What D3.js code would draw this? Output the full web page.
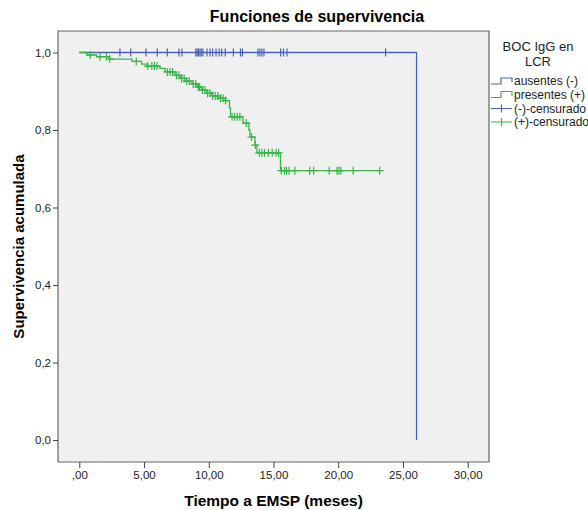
<!DOCTYPE html>
<html><head><meta charset="utf-8">
<script src="https://cdn.jsdelivr.net/npm/d3@7"></script>
<style>body{margin:0;background:#fff;font-family:"Liberation Sans",Arial,sans-serif;}</style>
</head><body>
<svg id="c" width="588" height="510"></svg>
<script>
// ---- data ----
const xTicks = [0, 5, 10, 15, 20, 25, 30];
const xTickLabels = [",00", "5,00", "10,00", "15,00", "20,00", "25,00", "30,00"];
const yTicks = [0, 0.2, 0.4, 0.6, 0.8, 1.0];
const yTickLabels = ["0,0", "0,2", "0,4", "0,6", "0,8", "1,0"];

// ausentes (-): one event at end
const blueEventTimes = [26.05];
const blueSurvival = [0.0];
const blueCensored = [3.14, 3.97, 5.15, 6.02, 6.8, 7.7, 7.93, 9.0, 9.1, 9.2, 9.32, 9.42, 9.55, 9.86, 10.1, 10.3,
  10.56, 10.8, 11.0, 11.27, 11.9, 12.45, 12.6, 13.8, 13.95, 14.1, 14.26, 15.55, 15.77, 16.04, 23.66];

// presentes (+)
const greenEventTimes = [0.57, 1.34, 2.3, 4.07, 4.82, 5.23, 6.23, 6.62, 7.39, 7.78, 8.24, 8.7, 9.09, 9.47, 9.86,
  10.25, 10.71, 11.17, 11.6, 11.68, 12.64, 13.1, 13.18, 13.57, 13.72, 15.54];
const greenSurvival = [0.9935, 0.989, 0.983, 0.977, 0.970, 0.965, 0.959, 0.950, 0.941, 0.933, 0.926, 0.919, 0.911,
  0.903, 0.895, 0.888, 0.882, 0.876, 0.857, 0.834, 0.818, 0.800, 0.782, 0.761, 0.741, 0.695];
const greenCensored = [0.85, 1.6, 2.1, 2.35, 4.4, 5.3, 5.6, 5.8, 6.0, 6.8, 7.0, 7.2, 7.5, 7.7, 7.9, 8.1, 8.3,
  8.5, 8.8, 9.0, 9.2, 9.3, 9.5, 9.7, 9.9, 10.1, 10.3, 10.5, 10.7, 10.9, 11.1, 11.3, 11.8, 12.0, 12.2, 12.4,
  12.9, 13.3, 13.6, 13.9, 14.1, 14.3, 14.6, 14.9, 15.2, 15.4, 15.6, 15.85, 16.0, 16.2, 16.65, 17.8, 18.1,
  19.3, 19.9, 20.05, 20.2, 21.15, 23.2];

const legendTitle = ["BOC IgG en", "LCR"];
const legendLabels = ["ausentes (-)", "presentes (+)", "(-)-censurado", "(+)-censurado"];
const blueColor = "#4a62b6", greenColor = "#3ab54a";

// ---- layout ----
const svg = d3.select("#c");
const plot = {l: 58, r: 489, t: 31, b: 462};
const x = d3.scaleLinear().domain([0, 30]).range([79.3, 467.7]);
const y = d3.scaleLinear().domain([0, 1]).range([440, 52.5]);

svg.append("rect").attr("x", plot.l).attr("y", plot.t).attr("width", plot.r - plot.l)
  .attr("height", plot.b - plot.t).attr("fill", "#f0f0f0");

function stepPoints(times, surv, endT) {
  const pts = [[0, 1]];
  times.forEach((t, i) => pts.push([t, surv[i]]));
  const last = pts[pts.length - 1];
  if (endT > last[0]) pts.push([endT, last[1]]);
  return pts;
}
function survAt(times, surv, t) {
  const i = d3.bisectRight(times, t);
  return i === 0 ? 1 : surv[i - 1];
}
const line = d3.line().x(d => x(d[0])).y(d => y(d[1])).curve(d3.curveStepAfter);

const g = svg.append("g");
// blue
const bluePts = stepPoints(blueEventTimes, blueSurvival, d3.max(blueCensored));
g.append("path").attr("d", line(bluePts)).attr("fill", "none").attr("stroke", blueColor).attr("stroke-width", 1.3);
// green
const greenPts = stepPoints(greenEventTimes, greenSurvival, d3.max(greenCensored));
g.append("path").attr("d", line(greenPts)).attr("fill", "none").attr("stroke", greenColor).attr("stroke-width", 1.3);

function crosses(times, evT, evS, color, hw) {
  const sel = g.append("g").attr("stroke", color).attr("stroke-width", 1.2).attr("fill", "none");
  times.forEach(t => {
    const cx = x(t), cy = y(survAt(evT, evS, t));
    sel.append("path").attr("d", `M${cx},${cy - 4}V${cy + 4}M${cx - hw},${cy}H${cx + hw}`);
  });
}
crosses(blueCensored, blueEventTimes, blueSurvival, blueColor, 0);
crosses(greenCensored, greenEventTimes, greenSurvival, greenColor, 4);

// frame
svg.append("path").attr("d", `M${plot.l},${plot.t}V${plot.b}H${plot.r}V${plot.t}Z`)
  .attr("fill", "none").attr("stroke", "#666").attr("stroke-width", 1.2);

// axes
const xAxis = d3.axisBottom(x).tickValues(xTicks).tickFormat((d, i) => xTickLabels[i]).tickSize(6).tickPadding(3);
const xg = svg.append("g").attr("transform", `translate(0,${plot.b})`).call(xAxis);
xg.select(".domain").remove();
const yAxis = d3.axisLeft(y).tickValues(yTicks).tickFormat((d, i) => yTickLabels[i]).tickSize(5).tickPadding(2);
const yg = svg.append("g").attr("transform", `translate(${plot.l},0)`).call(yAxis);
yg.select(".domain").remove();
[xg, yg].forEach(a => {
  a.selectAll("text").attr("font-family", "Liberation Sans, Arial, sans-serif").attr("font-size", 11.5).attr("fill", "#222");
  a.selectAll("line").attr("stroke", "#444");
});

// titles
svg.append("text").attr("x", 317).attr("y", 22).attr("text-anchor", "middle")
  .attr("font-size", 16).attr("font-weight", "bold").text("Funciones de supervivencia");
svg.append("text").attr("x", (plot.l + plot.r) / 2).attr("y", 506).attr("text-anchor", "middle")
  .attr("font-size", 15.5).attr("font-weight", "bold").text("Tiempo a EMSP (meses)");
svg.append("text").attr("transform", `translate(24,${(plot.t + plot.b) / 2}) rotate(-90)`).attr("text-anchor", "middle")
  .attr("font-size", 15).attr("font-weight", "bold").text("Supervivencia acumulada");

// legend
const lg = svg.append("g");
legendTitle.forEach((t, i) => lg.append("text").attr("x", 538).attr("y", 51 + i * 15).attr("text-anchor", "middle")
  .attr("font-size", 13).attr("fill", "#222").text(t));
const rowY = [81, 94.5, 108.5, 122];
const colors = [blueColor, greenColor, blueColor, greenColor];
legendLabels.forEach((t, i) => {
  const cy = rowY[i];
  if (i < 2) {
    lg.append("path").attr("d", `M491,${cy + 3}H501V${cy - 3}H512V${cy + 1}`).attr("fill", "none")
      .attr("stroke", colors[i]).attr("stroke-width", 1.2);
  } else {
    lg.append("path").attr("d", `M491,${cy}H512M501.5,${cy - 4}V${cy + 4}`).attr("fill", "none")
      .attr("stroke", colors[i]).attr("stroke-width", 1.2);
  }
  lg.append("text").attr("x", 514).attr("y", cy + 4).attr("font-size", 12).attr("fill", "#222").text(t);
});
</script>
</body></html>
